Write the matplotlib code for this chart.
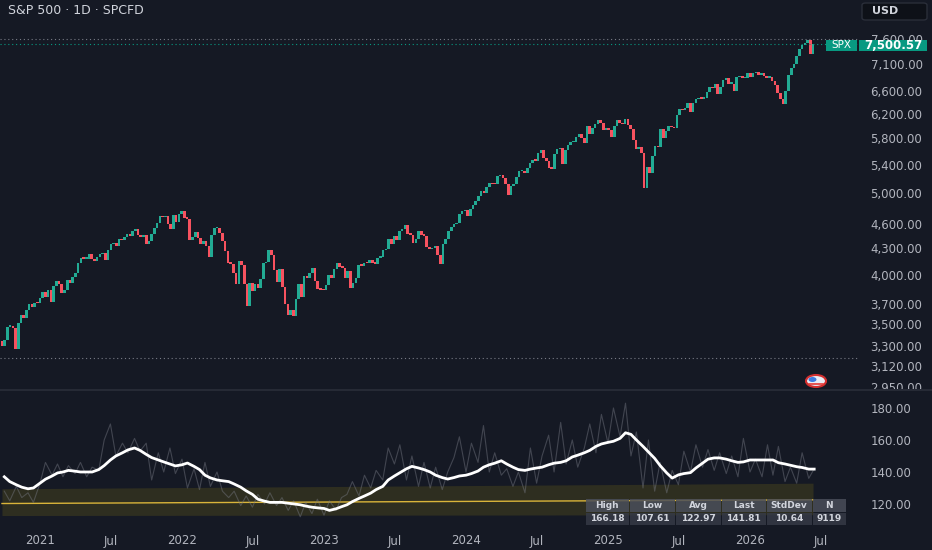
import numpy as np
import pandas as pd
import matplotlib
matplotlib.use('Agg')
import matplotlib.pyplot as plt
from matplotlib.patches import Rectangle, Ellipse, FancyBboxPatch
from matplotlib.lines import Line2D
from matplotlib.ticker import FixedLocator, NullLocator

BG = '#151924'
TXT = '#b2b5be'
UP = '#22ab94'
DOWN = '#f7525f'
TEAL = '#089981'

# weekly closes (Friday)
first_open = 3340
closes_2020 = [3298, 3348, 3477, 3484, 3465, 3270, 3510, 3585, 3558, 3638, 3699, 3663, 3709, 3703]
closes_2021 = [3756, 3824, 3768, 3841, 3714, 3887, 3934, 3907, 3811, 3842, 3943, 3913, 3975,
               4020, 4129, 4185, 4180, 4181, 4233, 4174, 4156, 4204, 4230, 4247, 4166, 4281,
               4352, 4370, 4327, 4412, 4395, 4437, 4468, 4442, 4509, 4535, 4459, 4433, 4455,
               4357, 4391, 4471, 4545, 4605, 4697, 4683, 4698, 4595, 4538, 4712, 4620, 4725, 4766]
closes_2022 = [4677, 4662, 4398, 4432, 4500, 4418, 4349, 4385, 4329, 4204, 4463, 4543,
               4546, 4488, 4393, 4272, 4132, 4123, 4024, 3901, 4158, 4109, 3901, 3675, 3912,
               3825, 3899, 3863, 3962, 4130, 4145, 4280, 4228, 4058, 3924, 4067, 3873, 3693, 3586,
               3640, 3583, 3752, 3901, 3771, 3993, 3965, 4026, 4072, 3934, 3852, 3845, 3840]
closes_2023 = [3895, 3999, 3973, 4071, 4136, 4090, 4079, 3970, 4046, 3862, 3917, 3971, 4109,
               4105, 4138, 4133, 4169, 4136, 4124, 4192, 4205, 4282, 4299, 4410, 4348, 4450,
               4399, 4505, 4536, 4582, 4478, 4464, 4370, 4406, 4515, 4457, 4450, 4320, 4288,
               4308, 4327, 4224, 4117, 4358, 4415, 4514, 4559, 4595, 4604, 4719, 4755, 4770]
closes_2024 = [4697, 4784, 4840, 4891, 4959, 5027, 5006, 5089, 5137, 5124, 5117, 5234, 5254,
               5204, 5123, 4967, 5100, 5128, 5223, 5303, 5305, 5278, 5347, 5432, 5465, 5460,
               5567, 5615, 5505, 5459, 5346, 5344, 5554, 5634, 5648, 5408, 5626, 5703, 5738,
               5751, 5815, 5864, 5808, 5729, 5996, 5870, 5969, 6032, 6090, 6051, 5931, 5971]
closes_2025 = [5942, 5827, 5997, 6101, 6041, 6026, 6115, 6013, 5955, 5770, 5639, 5668, 5581,
               5074, 5363, 5283, 5525, 5686, 5660, 5958, 5803, 5912, 6000, 5977, 5967, 6173,
               6279, 6260, 6297, 6389, 6238, 6389, 6450, 6467, 6460, 6482, 6584, 6664, 6644,
               6716, 6553, 6664, 6791, 6840, 6728, 6734, 6603, 6849, 6870, 6827, 6834, 6930]
closes_2026 = [6858, 6920, 6950, 6900, 6930, 6880, 6840, 6860, 6780, 6700, 6560, 6450, 6370,
               6600, 6900, 7020, 7100, 7250, 7400, 7480, 7520, 7580, 7300, 7500.57]

last_price = 7500.57
high_line = 7610
low_line = 3195

# indicator: raw line and its average, twice a month
raw_vals = [128, 122, 131, 124, 127, 121,
            133, 146, 138, 145, 137, 144, 139, 146, 137, 143, 141, 160,
            170, 150, 158, 152, 161, 153, 158, 135, 152, 140, 155, 139,
            148, 130, 142, 129, 146, 131, 140, 128, 124, 128, 119, 125,
            118, 126, 120, 127, 119, 124, 116, 122, 112, 121, 114, 123,
            113, 122, 116, 124, 126, 134, 125, 138, 130, 141, 135, 155,
            145, 157, 135, 150, 131, 146, 130, 143, 129, 140, 149, 162,
            140, 158, 146, 169, 140, 152, 138, 142, 131, 140, 127, 155,
            133, 150, 163, 140, 171, 145, 160, 143, 155, 170, 152, 176,
            158, 180, 162, 183, 150, 165, 130, 160, 128, 146, 127, 141,
            132, 153, 140, 157, 143, 154, 141, 152, 139, 150, 137, 161,
            140, 148, 137, 157, 138, 156, 134, 143, 133, 152, 136, 142]
avg_vals = [137, 134, 132, 130.5, 129.5, 130,
            133, 135.5, 137.5, 139.4, 140, 141, 140.5, 140, 140, 140, 141.5, 144,
            147.5, 150, 152, 153.8, 155, 153.5, 151, 149, 147.5, 146.3, 145, 143.8,
            144.5, 145.6, 143.5, 141.5, 138, 136.3, 135, 134.5, 134, 132.5, 130.5, 128.2,
            126, 123, 121.8, 121, 121, 121, 120.5, 120, 119.5, 118.7, 118, 117.6,
            117.2, 116, 117, 118.3, 119.5, 121.5, 123.5, 125, 126.8, 129, 131, 135,
            137.5, 139.5, 142, 143.5, 142.5, 141.5, 140, 138, 136.5, 135.6, 136.5, 137.5,
            138, 139, 140.6, 143, 144.5, 145.5, 147, 145, 143, 141.5, 141, 141.8,
            142.5, 143, 144.5, 145.5, 146, 147, 149.4, 150.5, 152, 153.5, 156, 157.5,
            158.5, 159.2, 161, 164.5, 163.5, 160, 156, 152.5, 148.5, 144, 139.4, 136.2,
            138.2, 139, 139.6, 142.5, 145.5, 148, 148.8, 148.8, 148, 147, 146, 146.3,
            147.5, 147.5, 147.5, 147.5, 147.5, 145.8, 145, 144.2, 143.3, 142.8, 141.8, 141.8]
band_dates = ['2020-09-25', '2026-06-12']
band_mid = [120.3, 122.6]
band_hi = [129.5, 133.0]
band_lo = [112.8, 113.3]

table_heads = ['High', 'Low', 'Avg', 'Last', 'StdDev', 'N']
table_vals = ['166.18', '107.61', '122.97', '141.81', '10.64', '9119']

price_ticks = [2950, 3120, 3300, 3500, 3700, 4000, 4300, 4600, 5000, 5400, 5800, 6200, 6600, 7100, 7600]
ind_ticks = [120, 140, 160, 180]
x_years = [2021, 2022, 2023, 2024, 2025, 2026]


def dec_year(dates):
    d = pd.DatetimeIndex(dates)
    return np.asarray(d.year + (d.dayofyear - 1) / np.where(d.is_leap_year, 366, 365))


W, H = 932, 550


def fx(px):
    return px / W


def fy(py):
    return 1 - py / H


closes = np.array(closes_2020 + closes_2021 + closes_2022 + closes_2023 +
                  closes_2024 + closes_2025 + closes_2026, dtype=float)
opens = np.concatenate([[first_open], closes[:-1]])
wk = dec_year(pd.date_range('2020-09-25', periods=len(closes), freq='W-FRI'))
semi = dec_year(pd.date_range('2020-10-01', periods=len(raw_vals), freq='SMS'))

fig = plt.figure(figsize=(W / 100, H / 100), dpi=100, facecolor=BG)
x0, x1 = 2020.7183, 2026.7606

# price pane
ax = fig.add_axes([0, fy(389), fx(858), 389 / H], facecolor=BG)
ax.set_yscale('log')
ax.set_xlim(x0, x1)
ax.set_ylim(2934, 8451)
cols = [UP if c >= o else DOWN for o, c in zip(opens, closes)]
hgt = np.maximum(np.abs(closes - opens), closes * 0.004)
ax.bar(wk, hgt, bottom=np.minimum(opens, closes), width=0.95 * 7 / 365.25,
       color=cols, linewidth=0)
ax.axhline(high_line, color='#787b86', lw=0.8, ls=(0, (1, 2.5)))
ax.axhline(last_price, color=TEAL, lw=0.8, ls=(0, (1, 2.5)))
ax.axhline(low_line, color='#787b86', lw=0.8, ls=(0, (1, 2.5)))
ax.yaxis.set_major_locator(FixedLocator(price_ticks))
ax.yaxis.set_minor_locator(NullLocator())
ax.set_yticklabels([f'{v:,.2f}' for v in price_ticks])
ax.yaxis.tick_right()
ax.tick_params(axis='y', length=0, pad=9, labelsize=8.5, labelcolor=TXT)
ax.set_xticks([])
for s in ax.spines.values():
    s.set_visible(False)

# indicator pane
ax2 = fig.add_axes([0, fy(522), fx(858), (522 - 391) / H], facecolor=BG)
ax2.set_xlim(x0, x1)
ax2.set_ylim(108.75, 190.6)
bd = dec_year(band_dates)
ax2.fill_between(bd, band_lo, band_hi, color='#8a7a12', alpha=0.22, linewidth=0)
ax2.plot(bd, band_mid, color='#d9b43a', lw=1.0)
ax2.plot(semi, raw_vals, color='#787b86', lw=0.8, alpha=0.45)
ax2.plot(semi, avg_vals, color='white', lw=2.0, solid_joinstyle='round')
ax2.yaxis.tick_right()
ax2.set_yticks(ind_ticks)
ax2.set_yticklabels([f'{v:.2f}' for v in ind_ticks])
ax2.tick_params(axis='y', length=0, pad=9, labelsize=8.5, labelcolor=TXT)
xt, xl = [], []
for y in x_years:
    xt += [y, y + 0.496]
    xl += [str(y), 'Jul']
ax2.set_xticks(xt)
ax2.set_xticklabels(xl)
ax2.tick_params(axis='x', length=0, pad=9, labelsize=8.5, labelcolor=TXT)
for s in ax2.spines.values():
    s.set_visible(False)

# pane separator and clip of lowest price label
fig.add_artist(Rectangle((fx(858), fy(399)), fx(74), 10 / H, transform=fig.transFigure,
                         facecolor=BG, edgecolor='none'))
fig.add_artist(Line2D([0, 1], [fy(389.5), fy(389.5)], transform=fig.transFigure,
                      color='#2a2e39', lw=1.2))

# stats table
edges = [585, 629, 675, 721, 766, 812, 846]
for i, (hd, vv) in enumerate(zip(table_heads, table_vals)):
    xa, xb = edges[i], edges[i + 1]
    fig.add_artist(Rectangle((fx(xa + 0.5), fy(512)), fx(xb - xa - 1), 13 / H,
                             transform=fig.transFigure, facecolor='#4a4e5a',
                             alpha=0.85, edgecolor='none'))
    fig.add_artist(Rectangle((fx(xa + 0.5), fy(524.5)), fx(xb - xa - 1), 12 / H,
                             transform=fig.transFigure, facecolor='#363a46',
                             alpha=0.85, edgecolor='none'))
    fig.text(fx((xa + xb) / 2), fy(505.5), hd, ha='center', va='center',
             color='#d1d4dc', fontsize=6.5, fontweight='bold')
    fig.text(fx((xa + xb) / 2), fy(518.5), vv, ha='center', va='center',
             color='#d1d4dc', fontsize=6.5, fontweight='bold')

# header texts
fig.text(fx(8), fy(11), 'S\u0026P 500 \u00b7 1D \u00b7 SPCFD', ha='left', va='center',
         color='#d1d4dc', fontsize=9)
fig.add_artist(FancyBboxPatch((fx(862), fy(20)), fx(65), 17 / H, transform=fig.transFigure,
                              boxstyle='round,pad=0,rounding_size=0.004',
                              facecolor='#0e1118', edgecolor='#2a2e39', lw=1))
fig.text(fx(872), fy(11.5), 'USD', ha='left', va='center', color='#d1d4dc',
         fontsize=8, fontweight='bold')

# last price label
fig.add_artist(Rectangle((fx(826), fy(51)), fx(31), 11 / H, transform=fig.transFigure,
                         facecolor=TEAL, edgecolor='none'))
fig.add_artist(Rectangle((fx(859), fy(51)), fx(68), 11 / H, transform=fig.transFigure,
                         facecolor=TEAL, edgecolor='none'))
fig.text(fx(841.5), fy(45.5), 'SPX', ha='center', va='center', color='white', fontsize=7.5)
fig.text(fx(893), fy(45.5), f'{last_price:,.2f}', ha='center', va='center', color='white',
         fontsize=8.5, fontweight='bold')

# event marker (flag)
fig.add_artist(Ellipse((fx(816), fy(381)), fx(20), 12 / H, transform=fig.transFigure,
                       facecolor='#e8ecf4', edgecolor='#d32f2f', lw=1.5))
fig.add_artist(Ellipse((fx(812.5), fy(379.5)), fx(8), 5 / H, transform=fig.transFigure,
                       facecolor='#3d7be0', edgecolor='none'))
fig.add_artist(Line2D([fx(809), fx(823)], [fy(383.5), fy(383.5)], transform=fig.transFigure,
                      color='#e53935', lw=1.2))

fig.savefig('out.png', dpi=100, facecolor=BG)
